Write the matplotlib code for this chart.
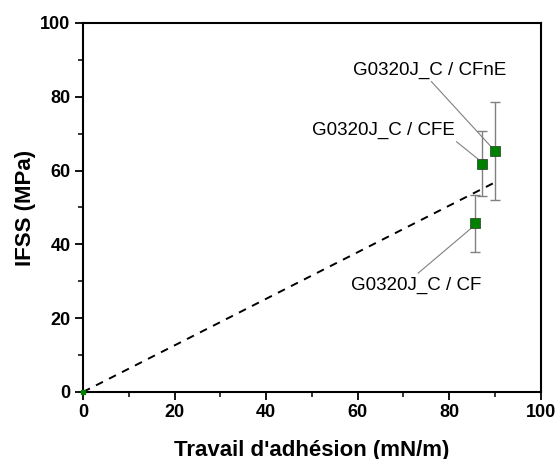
import matplotlib.pyplot as plt
from matplotlib.ticker import MultipleLocator

plt.rcParams['font.family'] = ['Liberation Sans', 'DejaVu Sans']

# data
labels = ['G0320J_C / CF', 'G0320J_C / CFE', 'G0320J_C / CFnE']
work = [85.7, 87.1, 90.0]
ifss = [45.7, 61.9, 65.4]
err_lo = [7.8, 8.8, 13.3]
err_hi = [7.6, 8.7, 13.1]
label_xy = [(72.8, 29.0), (65.7, 71.0), (75.8, 87.1)]
leader_start = [(73.2, 32.2), (81.6, 67.8), (76.1, 84.1)]
leader_end = [(85.2, 44.8), (86.3, 63.1), (89.4, 66.1)]
trend_x = [0, 89.5]
trend_y = [0, 56.5]

fig = plt.figure(figsize=(5.57, 4.59), dpi=100)
ax = fig.add_axes([0.149, 0.146, 0.822, 0.804])

ax.plot(trend_x, trend_y, '--', color='black', lw=1.4, dashes=(4, 3.5))

ax.errorbar(work, ifss, yerr=[err_lo, err_hi], fmt='none', ecolor='#808080',
            elinewidth=1, capsize=3.5, capthick=1, zorder=3)
ax.plot(work, ifss, 's', color='#008000', mec='#2f4f2f', mew=0.6, ms=6.5, zorder=4)
ax.plot([0], [0], 's', color='#008000', ms=3, zorder=4, clip_on=False)

for lab, (tx, ty), (x0, y0), (x1, y1) in zip(labels, label_xy, leader_start, leader_end):
    ax.text(tx, ty, lab, fontsize=13.5, ha='center', va='center')
    ax.plot([x0, x1], [y0, y1], color='#808080', lw=0.8, zorder=2)

ax.set_xlim(0, 100)
ax.set_ylim(0, 100)
ax.xaxis.set_major_locator(MultipleLocator(20))
ax.xaxis.set_minor_locator(MultipleLocator(10))
ax.yaxis.set_major_locator(MultipleLocator(20))
ax.yaxis.set_minor_locator(MultipleLocator(10))
ax.tick_params(which='major', direction='out', length=6, width=1.3, labelsize=13, pad=3)
ax.tick_params(which='minor', direction='out', length=3.5, width=1.1)
for t in ax.get_xticklabels() + ax.get_yticklabels():
    t.set_fontweight('bold')
for s in ax.spines.values():
    s.set_linewidth(1.5)

ax.set_xlabel("Travail d'adhésion (mN/m)", fontsize=16, fontweight='bold', labelpad=13)
ax.set_ylabel('IFSS (MPa)', fontsize=16, fontweight='bold', labelpad=3)

fig.savefig('out.png', dpi=100)
